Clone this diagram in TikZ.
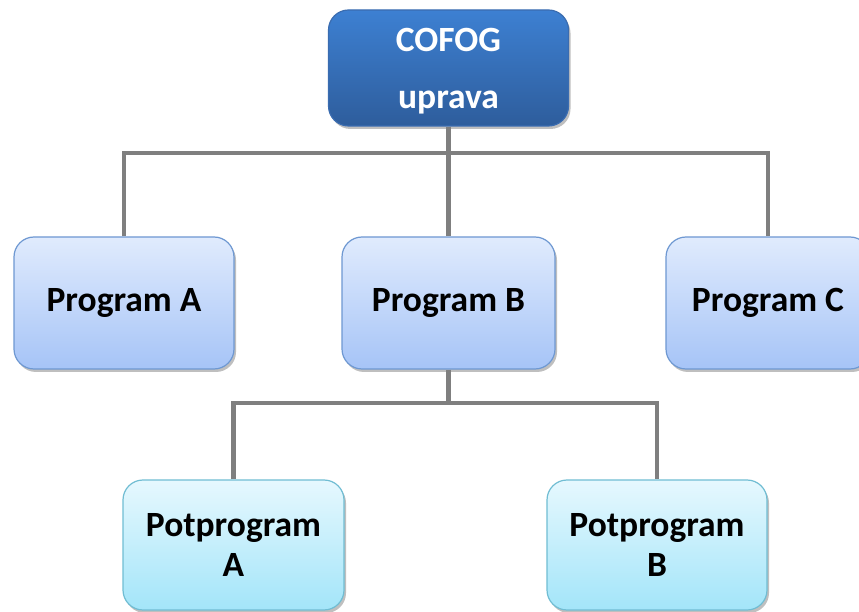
\documentclass[tikz,border=0pt]{standalone}
\usepackage{fontspec}
\setmainfont{Carlito}
\usetikzlibrary{shadows}
\definecolor{topA}{HTML}{3D80D2}
\definecolor{topB}{HTML}{2E5D9C}
\definecolor{topBorder}{HTML}{3A6CB0}
\definecolor{progA}{HTML}{E0EBFD}
\definecolor{progB}{HTML}{A6C4F7}
\definecolor{progBorder}{HTML}{6E98D2}
\definecolor{potA}{HTML}{E6F8FE}
\definecolor{potB}{HTML}{A3E5F9}
\definecolor{potBorder}{HTML}{70BDD3}
\definecolor{linkgray}{HTML}{7F7F7F}
\tikzset{
  x=1pt, y=1pt,
  boxbase/.style={rounded corners=20pt, line width=1.2pt, inner sep=0pt,
    align=center, font=\bfseries\fontsize{35.5}{40}\selectfont,
    drop shadow={shadow xshift=2pt, shadow yshift=-3pt, opacity=0.25, fill=black}},
  topbox/.style={boxbase, draw=topBorder, top color=topA, bottom color=topB},
  progbox/.style={boxbase, draw=progBorder, top color=progA, bottom color=progB},
  potbox/.style={boxbase, draw=potBorder, top color=potA, bottom color=potB},
  link/.style={draw=linkgray, line width=4.8pt}
}
\begin{document}
\begin{tikzpicture}
\useasboundingbox (0,0) rectangle (859,611);
\clip (0,0) rectangle (859,611);
\fill[white] (0,0) rectangle (859,611);
\coordinate (j1) at (448.5,458);
\coordinate (j2) at (448.5,208);
\node[topbox, minimum width=240pt, minimum height=116pt] (top) at (448.5,543) {};
\node[text=white, font=\bfseries\fontsize{35.5}{57}\selectfont, align=center, inner sep=0pt] (toplabel) at (448.5,540) {COFOG\\uprava};
\node[progbox, minimum width=220pt, minimum height=132pt] (pa) at (124,308) {Program A};
\node[progbox, minimum width=213pt, minimum height=132pt] (pb) at (448.5,308) {Program B};
\node[progbox, minimum width=204pt, minimum height=132pt] (pc) at (768,308) {Program C};
\node[potbox, minimum width=221pt, minimum height=130pt] (sa) at (233.5,66) {Potprogram\\A};
\node[potbox, minimum width=220pt, minimum height=130pt] (sb) at (657,66) {Potprogram\\B};
\draw[link] (top.south) -- (j1);
\draw[link] (pa.north) |- (j1) -| (pc.north);
\draw[link] (j1) -- (pb.north);
\draw[link] (pb.south) -- (j2);
\draw[link] (sa.north) |- (j2) -| (sb.north);
\end{tikzpicture}
\end{document}
